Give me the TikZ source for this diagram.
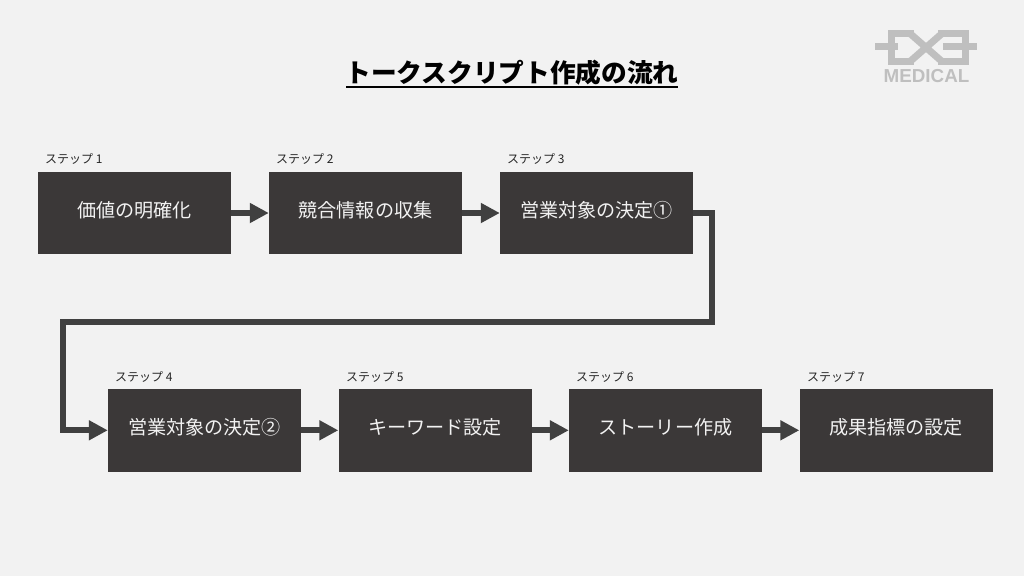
\documentclass[tikz,border=0pt]{standalone}
\usepackage{fontspec}
\setmainfont{Noto Sans CJK JP}
\newfontfamily\logofont{Liberation Sans}
\usetikzlibrary{arrows.meta}
\definecolor{pagegray}{HTML}{F2F2F2}
\definecolor{boxdark}{HTML}{3B3838}
\definecolor{arrowdark}{HTML}{404040}
\definecolor{logogray}{HTML}{BFBFBF}
\tikzset{
  stepbox/.style={fill=boxdark, text=pagegray, minimum width=193pt, minimum height=82.5pt, inner sep=0pt, text height=15pt, text depth=6pt, font=\fontsize{19.1}{20}\selectfont},
  steplabel/.style={anchor=west, inner sep=0pt, text=black!85, font=\fontsize{12}{12}\selectfont},
  flow/.style={arrowdark, line width=6pt, -{Triangle[length=19pt, width=19pt]}},
  logoline/.style={logogray, line width=7pt}
}

\begin{document}
\begin{tikzpicture}[x=1pt, y=-1pt]
  \useasboundingbox[fill=pagegray] (0,0) rectangle (1024,576);

  %Title
  \node[inner sep=0pt, font=\fontsize{25.7}{26}\selectfont\bfseries] (title) at (512,73) {トークスクリプト作成の流れ};
  \draw[line width=1.6pt] (346,87) -- (678,87);

  %Logo
  \draw[logoline] (875,46.5) -- (898,46.5) (943,46.5) -- (977,46.5);
  \draw[logoline] (914,33.5) -- (891.5,33.5) -- (891.5,61.5) -- (914,61.5);
  \draw[logoline] (938,33.5) -- (965,33.5) -- (965,61.5) -- (938,61.5);
  \draw[logoline] (910,33.5) -- (942,61.5) (910,61.5) -- (942,33.5);
  \node[inner sep=0pt, logogray, font=\logofont\fontsize{18.8}{20}\selectfont\bfseries] (medical) at (926.5,76) {MEDICAL};

  %Boxes
  \node[stepbox] (box1) at (134.5,213) {価値の明確化};
  \node[stepbox] (box2) at (365.5,213) {競合情報の収集};
  \node[stepbox] (box3) at (596.5,213) {営業対象の決定①};
  \node[stepbox] (box4) at (204.5,430.3) {営業対象の決定②};
  \node[stepbox] (box5) at (435,430.3) {キーワード設定};
  \node[stepbox] (box6) at (665.5,430.3) {ストーリー作成};
  \node[stepbox] (box7) at (896,430.3) {成果指標の設定};

  %Step labels
  \node[steplabel] (label1) at (45,159) {ステップ 1};
  \node[steplabel] (label2) at (276,159) {ステップ 2};
  \node[steplabel] (label3) at (507,159) {ステップ 3};
  \node[steplabel] (label4) at (115,376.5) {ステップ 4};
  \node[steplabel] (label5) at (346,376.5) {ステップ 5};
  \node[steplabel] (label6) at (576,376.5) {ステップ 6};
  \node[steplabel] (label7) at (807,376.5) {ステップ 7};

  %Arrows
  \draw[flow] (box1) -- (box2);
  \draw[flow] (box2) -- (box3);
  \coordinate (turn1) at (712,322);
  \coordinate (turn2) at (63,322);
  \draw[flow] (box3.east) -| (turn1) -- (turn2) |- (box4.west);
  \draw[flow] (box4) -- (box5);
  \draw[flow] (box5) -- (box6);
  \draw[flow] (box6) -- (box7);
\end{tikzpicture}
\end{document}
